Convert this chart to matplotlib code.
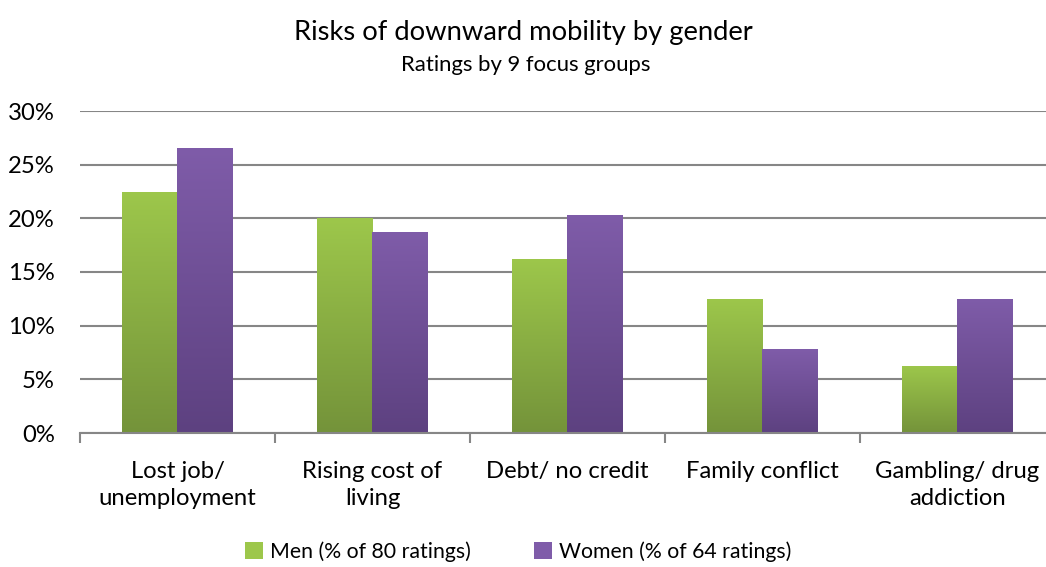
import numpy as np
import matplotlib.pyplot as plt
from matplotlib.colors import LinearSegmentedColormap
from matplotlib.patches import Patch

plt.rcParams['font.family'] = ['Lato', 'DejaVu Sans']

categories = ["Lost job/\nunemployment", "Rising cost of\nliving", "Debt/ no credit",
              "Family conflict", "Gambling/ drug\naddiction"]
men = [22.5, 20.0, 16.25, 12.5, 6.25]      # % of 80 ratings
women = [26.56, 18.75, 20.31, 7.81, 12.5]  # % of 64 ratings
yticks = [0, 5, 10, 15, 20, 25, 30]

green_top, green_bot = "#9dc74b", "#74933a"
purple_top, purple_bot = "#7f5ca9", "#5d4180"

W, H = 1046, 567
fig = plt.figure(figsize=(W / 100, H / 100), dpi=100)
renderer = fig.canvas.get_renderer()


def fit_size(s, width_px):
    # font size that makes the string about width_px wide
    t = fig.text(0, 0, s, fontsize=10)
    w = t.get_window_extent(renderer).width
    t.remove()
    return 10 * width_px / w


lab_fs = fit_size("unemployment", 158)
leg_fs = fit_size("Men (% of 80 ratings)", 200)

ax = fig.add_axes([80 / W, 1 - 433 / H, 975 / W, 322 / H])

x = np.arange(len(categories))
w = 0.287
off = 0.143


def gradient_bars(xs, vals, top, bot):
    bars = ax.bar(xs, vals, w, color=bot, edgecolor="none", zorder=3)
    cmap = LinearSegmentedColormap.from_list("g", [bot, top])
    grad = np.linspace(0, 1, 256).reshape(-1, 1)
    for b in bars:
        bx, by = b.get_x(), b.get_y()
        im = ax.imshow(grad, cmap=cmap, origin="lower", aspect="auto",
                       extent=[bx, bx + b.get_width(), by, by + b.get_height()],
                       zorder=4)
        im.set_clip_path(b)
    return bars


gradient_bars(x - off, men, green_top, green_bot)
gradient_bars(x + off, women, purple_top, purple_bot)

ax.set_xlim(-0.5, len(categories) - 0.5)
ax.set_ylim(0, 30)
ax.set_yticks(yticks)
ax.set_yticklabels([f"{t}%" for t in yticks])
ax.yaxis.grid(True, color="#868686", linewidth=1.5, zorder=0)
ax.set_axisbelow(True)

for s in ["top", "right", "left"]:
    ax.spines[s].set_visible(False)
ax.spines["bottom"].set_color("#868686")
ax.spines["bottom"].set_linewidth(1.5)
ax.spines["bottom"].set_zorder(5)

ax.set_xticks(x)
ax.set_xticklabels(categories, fontsize=lab_fs, linespacing=1.35)
ax.set_xticks(np.arange(len(categories) + 1) - 0.5, minor=True)
ax.tick_params(axis="x", which="major", length=0, pad=20)
ax.tick_params(axis="x", which="minor", length=7, width=1.5, color="#868686", direction="out")
ax.tick_params(axis="y", length=0, pad=18, labelsize=lab_fs)

title = "Risks of downward mobility by gender"
subtitle = "Ratings by 9 focus groups"
fig.text(523 / W, 1 - 40 / H, title, ha="center", va="baseline",
         fontsize=fit_size(title, 462))
fig.text(526 / W, 1 - 71 / H, subtitle, ha="center", va="baseline",
         fontsize=fit_size(subtitle, 250))

handles = [Patch(facecolor=green_top, label="Men (% of 80 ratings)"),
           Patch(facecolor=purple_top, label="Women (% of 64 ratings)")]
fig.legend(handles=handles, loc="center", bbox_to_anchor=(518 / W, 1 - 552 / H),
           ncol=2, frameon=False, fontsize=leg_fs, handlelength=0.85, handleheight=0.85,
           handletextpad=0.3, columnspacing=3.0, borderpad=0)

fig.savefig("out.png", dpi=100)
